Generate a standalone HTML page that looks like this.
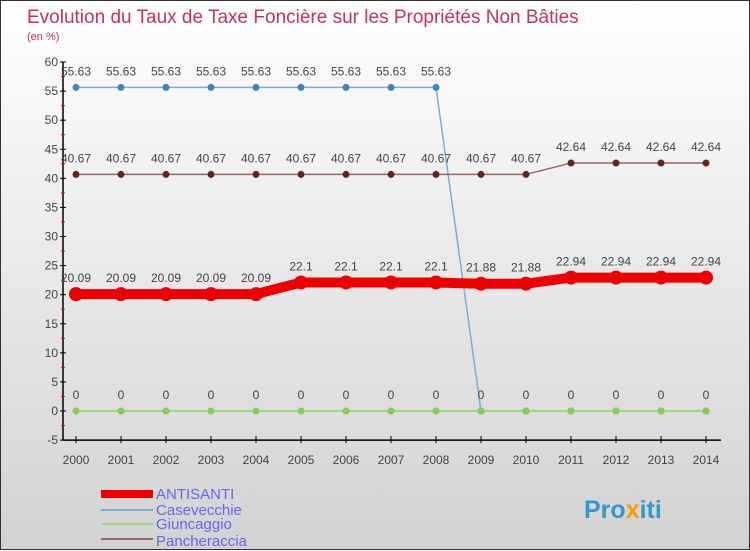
<!DOCTYPE html>
<html><head><meta charset="utf-8">
<style>
body{margin:0;width:750px;height:550px;overflow:hidden;font-family:"Liberation Sans",sans-serif}
#wrap{position:relative;width:748px;height:548px;border:1px solid #333;background:linear-gradient(#ffffff,#d2d2d2)}
svg{position:absolute;left:0;top:0}
</style></head><body>
<div id="wrap">
<svg id="chart" width="750" height="550">
<text x="26" y="22" font-size="19" fill="#c0306a" font-weight="300">Evolution du Taux de Taxe Foncière sur les Propriétés Non Bâties</text>
<text x="26" y="39" font-size="11" fill="#c0306a">(en %)</text>
<g id="axes"></g><g id="series"></g>
<g>
<rect x="100" y="489" width="52" height="8" fill="#e00"/>
<text x="155" y="498" font-size="15" fill="#6666ee">ANTISANTI</text>
<rect x="100" y="508" width="52" height="2" fill="#7aaed6"/>
<text x="155" y="514" font-size="15" fill="#6666ee">Casevecchie</text>
<rect x="100" y="522" width="52" height="2" fill="#99dd77"/>
<text x="155" y="528" font-size="15" fill="#6666ee">Giuncaggio</text>
<rect x="100" y="537" width="52" height="2" fill="#996666"/>
<text x="155" y="545" font-size="15" fill="#6666ee">Pancheraccia</text>
</g>
<text x="583" y="517" font-size="25" font-weight="bold" fill="#3399cc">Pro<tspan fill="#ff9900">x</tspan>iti</text>
</svg></div>
<script>
const years=[2000,2001,2002,2003,2004,2005,2006,2007,2008,2009,2010,2011,2012,2013,2014];
const antisanti=[20.09,20.09,20.09,20.09,20.09,22.1,22.1,22.1,22.1,21.88,21.88,22.94,22.94,22.94,22.94];
const casevecchie=[55.63,55.63,55.63,55.63,55.63,55.63,55.63,55.63,55.63,0,0,0,0,0,0];
const giuncaggio=[0,0,0,0,0,0,0,0,0,0,0,0,0,0,0];
const pancheraccia=[40.67,40.67,40.67,40.67,40.67,40.67,40.67,40.67,40.67,40.67,40.67,42.64,42.64,42.64,42.64];
const yTicks=[-5,0,5,10,15,20,25,30,35,40,45,50,55,60];
const NS="http://www.w3.org/2000/svg";
function X(i){return 75+i*45;}
function Y(v){return 410-v*(349/60);}
function mk(tag,attrs,parent){const e=document.createElementNS(NS,tag);for(const k in attrs)e.setAttribute(k,attrs[k]);parent.appendChild(e);return e;}
const ax=document.getElementById('axes'),sg=document.getElementById('series');
let a=mk('line',{x1:62,y1:Y(60),x2:62,y2:Y(-5),stroke:'#000','stroke-width':1.5},ax);


a=mk('line',{x1:62,y1:Y(-5),x2:X(14)+15,y2:Y(-5),stroke:'#000','stroke-width':1.5},ax);


yTicks.forEach(v=>{
 mk('line',{x1:59,y1:Y(v),x2:65,y2:Y(v),stroke:'#000'},ax);
 if(v<60)mk('line',{x1:60,y1:Y(v+2.5),x2:64,y2:Y(v+2.5),stroke:'#e00'},ax);
 const t=mk('text',{x:57,y:Y(v)+4,'font-size':12,fill:'#444','text-anchor':'end'},ax);t.textContent=v;
 
 
});
years.forEach((y,i)=>{
 mk('line',{x1:X(i),y1:Y(-5)-4,x2:X(i),y2:Y(-5)+3,stroke:'#000'},ax);
 const t=mk('text',{x:X(i),y:Y(-5)+24,'font-size':12,fill:'#444','text-anchor':'middle'},ax);t.textContent=y;
 
 
});
function series(name,vals,color,w,r,dot,labelFn){
 const g=mk('g',{},sg);
 
 
 const p=mk('polyline',{points:vals.map((v,i)=>X(i)+','+Y(v)).join(' '),fill:'none',stroke:color,'stroke-width':w},g);
 
 
 vals.forEach((v,i)=>{
  const c=mk('circle',{cx:X(i),cy:Y(v),r:r,fill:dot},g);
  
  
  if(labelFn(i)){const t=mk('text',{x:X(i),y:Y(v)-12,'font-size':12,fill:'#444','text-anchor':'middle'},g);t.textContent=String(v);
  
  }
 });
}
series('casevecchie',casevecchie,'#7aaed6',1.5,3.5,'#3a85c0',i=>true);
series('giuncaggio',giuncaggio,'#99dd77',2,3.5,'#88cc55',i=>i<9);
series('pancheraccia',pancheraccia,'#996666',1.5,3.5,'#662222',i=>true);
series('antisanti',antisanti,'#ee0000',10,7,'#ee0000',i=>true);
</script>
</body></html>
